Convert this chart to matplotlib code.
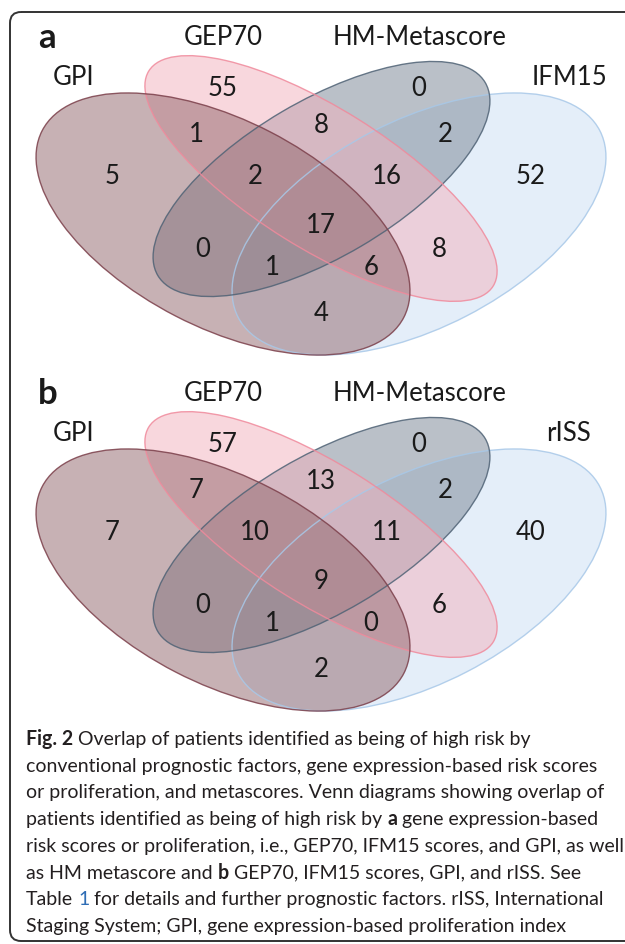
import matplotlib
matplotlib.use('Agg')
import matplotlib.pyplot as plt
from matplotlib.patches import Ellipse, FancyBboxPatch

# sets in drawing order of the names: GPI, GEP70, HM-Metascore, 4th set
names_a = ['GPI', 'GEP70', 'HM-Metascore', 'IFM15']
names_b = ['GPI', 'GEP70', 'HM-Metascore', 'rISS']

# region membership flags (GPI, GEP70, HM, 4th)
regions = ['0100', '0010', '1100', '0110', '0011', '1000', '1110', '0111',
           '0001', '1111', '1010', '0101', '1011', '1101', '1001']
counts_a = [55, 0, 1, 8, 2, 5, 2, 16, 52, 17, 0, 8, 1, 6, 4]
counts_b = [57, 0, 7, 13, 2, 7, 10, 11, 40, 9, 0, 6, 1, 0, 2]

caption_lines = [
    [('Fig. 2', 'bold', None), ('Overlap of patients identified as being of high risk by', 'normal', None)],
    [('conventional prognostic factors, gene expression-based risk scores', 'normal', None)],
    [('or proliferation, and metascores. Venn diagrams showing overlap of', 'normal', None)],
    [('patients identified as being of high risk by', 'normal', None), ('a', 'bold', None),
     ('gene expression-based', 'normal', None)],
    [('risk scores or proliferation, i.e., GEP70, IFM15 scores, and GPI, as well', 'normal', None)],
    [('as HM metascore and', 'normal', None), ('b', 'bold', None),
     ('GEP70, IFM15 scores, GPI, and rISS. See', 'normal', None)],
    [('Table', 'normal', None), ('1', 'normal', '#2f6db5'),
     ('for details and further prognostic factors. rISS, International', 'normal', None)],
    [('Staging System; GPI, gene expression-based proliferation index', 'normal', None)],
]

# layout (pixel coords inside a panel)
label_pos = {'0100': (223, 87), '0010': (419, 87), '1100': (196, 133), '0110': (321, 124),
             '0011': (445, 133), '1000': (112, 175), '1110': (255, 175), '0111': (387, 175),
             '0001': (531, 175), '1111': (321, 224), '1010': (203, 248), '0101': (439, 248),
             '1011': (272, 266), '1101': (371, 266), '1001': (321, 312)}
name_pos = [(74, 77), (223, 37), (420, 37), (569, 77)]
# center, width, height, angle, face, edge
ell = [
    ((223, 224), 407, 207, 27.3, '#91656b', '#7b3f4a'),
    ((321, 178.5), 406, 140, 32.0, '#f3b1bd', '#f08a9c'),
    ((321.5, 179), 380, 156, -30.5, '#778393', '#4f6275'),
    ((419, 224), 407, 207, -27.3, '#cbdff5', '#a8c8e8'),
]
draw_order = [3, 2, 1, 0]

font = 'Lato'
txt_col = '#1a1a1a'

fig = plt.figure(figsize=(6.25, 9.44), dpi=100)
ax = fig.add_axes([0, 0, 1, 1])
ax.set_xlim(0, 625)
ax.set_ylim(944, 0)
ax.axis('off')

ax.add_patch(FancyBboxPatch((10, 12), 640, 929, boxstyle='round,pad=0,rounding_size=11',
                            fill=False, edgecolor='#333333', linewidth=1.4, clip_on=False))


def draw_panel(dy, letter, names, counts):
    # fills first, outlines on top
    for i in draw_order:
        (cx, cy), w, h, ang, fc, ec = ell[i]
        ax.add_patch(Ellipse((cx, cy + dy), w, h, angle=ang, facecolor=fc, alpha=0.5,
                             edgecolor='none'))
    for i in draw_order:
        (cx, cy), w, h, ang, fc, ec = ell[i]
        ax.add_patch(Ellipse((cx, cy + dy), w, h, angle=ang, fill=False, edgecolor=ec,
                             linewidth=1.0, alpha=0.85))
    for reg, n in zip(regions, counts):
        x, y = label_pos[reg]
        ax.text(x, y + dy + 9, str(n), ha='center', va='baseline', fontsize=18.5,
                family=font, color=txt_col)
    for (x, y), nm in zip(name_pos, names):
        ax.text(x, y + dy + 8, nm, ha='center', va='baseline', fontsize=18.5,
                family=font, color=txt_col)
    ax.text(38, 48 + dy, letter, ha='left', va='baseline', fontsize=25, fontweight='bold',
            family=font, color=txt_col)


draw_panel(0, 'a', names_a, counts_a)
draw_panel(356, 'b', names_b, counts_b)

# caption
renderer = fig.canvas.get_renderer()


def width_of(s, size, weight='normal'):
    t = ax.text(0, 0, s, fontsize=size, fontweight=weight, family=font)
    w = t.get_window_extent(renderer).width
    t.remove()
    return w


base = 10
scale = 579 / width_of(caption_lines[2][0][0], base)
cap_size = base * scale
space = width_of('a a', cap_size) - width_of('aa', cap_size)

y = 745
for line in caption_lines:
    x = 26
    for s, weight, col in line:
        t = ax.text(x, y, s, fontsize=cap_size, fontweight=weight, family=font,
                    color=col or '#231f20', ha='left', va='baseline')
        x += t.get_window_extent(renderer).width + space
    y += 26.7

fig.savefig('out.png', dpi=100)
